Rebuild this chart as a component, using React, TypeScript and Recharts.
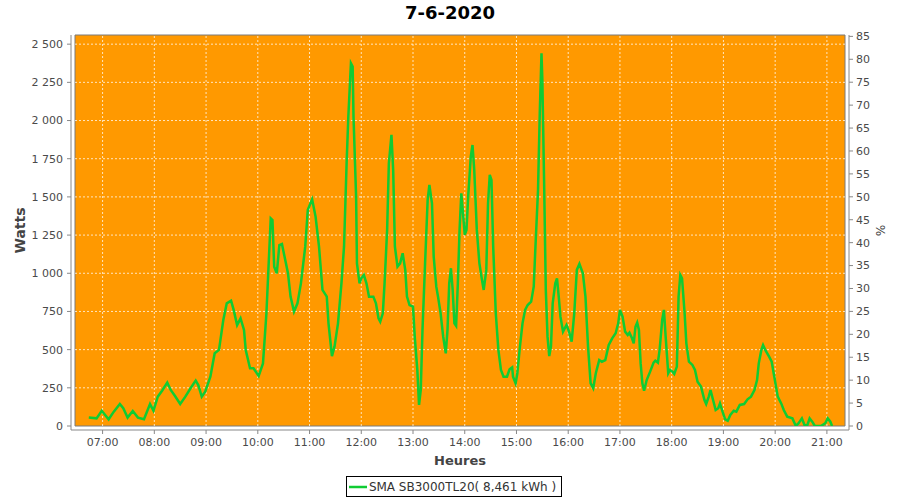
import React from 'react';
import { LineChart, Line, XAxis, YAxis, ReferenceArea, ReferenceLine, Legend } from 'recharts';

const title = '7-6-2020';
const seriesName = 'SMA SB3000TL20( 8,461 kWh )';
const xLabel = 'Heures';
const yLeftLabel = 'Watts';
const yRightLabel = '%';

const times = [
  '06:44', '06:53', '06:59', '07:07', '07:13', '07:20', '07:24', '07:29', '07:35', '07:41',
  '07:48', '07:55', '07:59', '08:04', '08:09', '08:15', '08:19', '08:24', '08:30', '08:36',
  '08:42', '08:48', '08:51', '08:55', '08:59', '09:05', '09:10', '09:15', '09:20', '09:24',
  '09:29', '09:32', '09:36', '09:40', '09:44', '09:46', '09:51', '09:55', '10:01', '10:06',
  '10:10', '10:15', '10:17', '10:19', '10:22', '10:25', '10:28', '10:31', '10:35', '10:38',
  '10:42', '10:46', '10:50', '10:55', '10:58', '11:03', '11:07', '11:11', '11:15', '11:20',
  '11:22', '11:26', '11:29', '11:33', '11:37', '11:40', '11:43', '11:45', '11:48', '11:50',
  '11:51', '11:54', '11:55', '11:58', '12:00', '12:03', '12:06', '12:09', '12:14', '12:17',
  '12:20', '12:22', '12:25', '12:27', '12:30', '12:32', '12:35', '12:37', '12:39', '12:42',
  '12:45', '12:48', '12:51', '12:53', '12:56', '13:00', '13:02', '13:05', '13:07', '13:09',
  '13:11', '13:14', '13:17', '13:19', '13:22', '13:24', '13:27', '13:29', '13:32', '13:35',
  '13:38', '13:40', '13:42', '13:44', '13:46', '13:48', '13:50', '13:52', '13:54', '13:56',
  '13:58', '14:00', '14:02', '14:04', '14:07', '14:09', '14:11', '14:14', '14:17', '14:20',
  '14:22', '14:25', '14:27', '14:29', '14:31', '14:33', '14:36', '14:39', '14:42', '14:45',
  '14:49', '14:52', '14:55', '14:56', '14:59', '15:01', '15:04', '15:07', '15:10', '15:13',
  '15:17', '15:20', '15:22', '15:25', '15:27', '15:29', '15:30', '15:32', '15:34', '15:36',
  '15:38', '15:40', '15:42', '15:45', '15:47', '15:49', '15:51', '15:54', '15:58', '16:01',
  '16:04', '16:07', '16:10', '16:13', '16:17', '16:20', '16:23', '16:26', '16:29', '16:32',
  '16:36', '16:39', '16:43', '16:47', '16:51', '16:55', '16:58', '17:00', '17:03', '17:06',
  '17:09', '17:11', '17:14', '17:16', '17:18', '17:20', '17:22', '17:24', '17:26', '17:28',
  '17:31', '17:35', '17:39', '17:41', '17:44', '17:46', '17:49', '17:51', '17:53', '17:56',
  '17:58', '18:01', '18:03', '18:06', '18:08', '18:10', '18:12', '18:15', '18:17', '18:20',
  '18:24', '18:27', '18:30', '18:34', '18:38', '18:40', '18:43', '18:45', '18:48', '18:51',
  '18:54', '18:56', '18:59', '19:02', '19:05', '19:08', '19:12', '19:15', '19:19', '19:24',
  '19:28', '19:32', '19:36', '19:39', '19:41', '19:44', '19:46', '19:49', '19:53', '19:56',
  '19:59', '20:03', '20:07', '20:10', '20:14', '20:20', '20:24', '20:27', '20:31', '20:34',
  '20:37', '20:40', '20:43', '20:46', '20:53', '20:58', '21:01', '21:04', '21:06',
];

const watts = [
  55, 50, 100, 44, 94, 144, 116, 55, 98, 55,
  44, 144, 100, 192, 231, 284, 236, 196, 144, 192,
  247, 297, 268, 192, 225, 323, 476, 498, 694, 803,
  821, 760, 661, 705, 629, 498, 378, 378, 327, 410,
  738, 1360, 1349, 1043, 1000, 1185, 1192, 1109, 1000, 847,
  749, 803, 934, 1174, 1415, 1484, 1371, 1174, 891, 847,
  672, 458, 520, 672, 934, 1174, 1720, 2026, 2375, 2353,
  2026, 1502, 1065, 934, 967, 989, 934, 847, 847, 803,
  705, 683, 738, 934, 1284, 1720, 1906, 1677, 1174, 1043,
  1065, 1131, 1022, 847, 792, 782, 585, 367, 138, 236,
  629, 1065, 1480, 1578, 1458, 1109, 912, 847, 738, 585,
  476, 629, 934, 1033, 891, 672, 655, 934, 1284, 1524,
  1393, 1251, 1284, 1502, 1764, 1840, 1677, 1284, 1065, 956,
  891, 1022, 1458, 1644, 1611, 1174, 738, 498, 367, 323,
  323, 371, 384, 323, 279, 345, 520, 672, 760, 792,
  814, 912, 1174, 1546, 2048, 2441, 2266, 1611, 891, 585,
  458, 520, 803, 934, 967, 847, 716, 618, 661, 618,
  552, 738, 1022, 1061, 1000, 847, 520, 279, 247, 345,
  432, 421, 432, 530, 574, 607, 672, 760, 716, 618,
  596, 611, 574, 541, 650, 677, 629, 410, 279, 231,
  301, 356, 415, 428, 415, 498, 694, 760, 585, 345,
  367, 356, 341, 389, 847, 989, 967, 738, 541, 421,
  400, 367, 290, 258, 170, 144, 192, 236, 170, 105,
  116, 148, 94, 44, 35, 72, 100, 94, 138, 144,
  175, 192, 236, 301, 410, 498, 530, 493, 454, 421,
  323, 192, 148, 105, 61, 50, 0, 17, 50, 7,
  0, 50, 28, 0, 0, 17, 50, 28, 0,
];

const hourTicks = [
  '07:00', '08:00', '09:00', '10:00', '11:00', '12:00', '13:00', '14:00',
  '15:00', '16:00', '17:00', '18:00', '19:00', '20:00', '21:00',
];
const xRange = ['06:28', '21:21'];
const wattTicks = [0, 250, 500, 750, 1000, 1250, 1500, 1750, 2000, 2250, 2500];
const wattMax = 2560;
const pctTicks = [0, 5, 10, 15, 20, 25, 30, 35, 40, 45, 50, 55, 60, 65, 70, 75, 80, 85];
const pctMax = 85.3;

const toMin = (s: string) => {
  const [h, m] = s.split(':').map(Number);
  return h * 60 + m;
};
const pad2 = (n: number) => String(n).padStart(2, '0');
const fmtTime = (v: number) => `${pad2(Math.floor(v / 60))}:${pad2(Math.round(v % 60))}`;
const fmtW = (v: number) =>
  v >= 1000 ? `${Math.floor(v / 1000)} ${String(v % 1000).padStart(3, '0')}` : String(v);

const data = times.map((t, i) => ({ t: toMin(t), w: watts[i] }));
const xTicks = hourTicks.map(toMin);
const xMin = toMin(xRange[0]);
const xMax = toMin(xRange[1]);

const FONT = 'DejaVu Sans, Verdana, sans-serif';
const TICK_FILL = '#4a4a4a';
const AXIS_STROKE = '#888888';
const PLOT_BG = '#FF9900';
const LINE_COLOR = '#10CC33';
const GRID = '#FFFFFF';

const LeftLabel = (props: any) => {
  const vb = props.viewBox || { x: 0, y: 0, width: 0, height: 0 };
  const cx = 20;
  const cy = vb.y + (vb.height - 4) / 2;
  return (
    <text
      x={cx}
      y={cy}
      transform={`rotate(-90 ${cx} ${cy})`}
      textAnchor="middle"
      dominantBaseline="central"
      fontFamily={FONT}
      fontSize={14}
      fontWeight="bold"
      fill="#444"
    >
      {yLeftLabel}
    </text>
  );
};

const RightLabel = (props: any) => {
  const vb = props.viewBox || { x: 0, y: 0, width: 0, height: 0 };
  const cx = vb.x + 31;
  const cy = vb.y + (vb.height - 4) / 2;
  return (
    <text
      x={cx}
      y={cy}
      transform={`rotate(90 ${cx} ${cy})`}
      textAnchor="middle"
      dominantBaseline="central"
      fontFamily={FONT}
      fontSize={12}
      fill="#444"
    >
      {yRightLabel}
    </text>
  );
};

const BottomLabel = (props: any) => {
  const vb = props.viewBox || { x: 0, y: 0, width: 0, height: 0 };
  const cx = vb.x + vb.width / 2;
  return (
    <text
      x={cx}
      y={vb.y + 35}
      textAnchor="middle"
      fontFamily={FONT}
      fontSize={13}
      fontWeight="bold"
      fill="#444"
    >
      {xLabel}
    </text>
  );
};

const LegendBox = () => (
  <div style={{ display: 'flex', justifyContent: 'center', paddingLeft: 8, marginTop: 6 }}>
    <div
      style={{
        border: '1px solid #000',
        display: 'flex',
        alignItems: 'center',
        height: 19,
        padding: '0 5px 0 2px',
        fontFamily: FONT,
        fontSize: 12,
        color: '#333',
        background: '#fff',
      }}
    >
      <svg width={18} height={6} style={{ marginRight: 2 }}>
        <line x1={0} y1={3} x2={18} y2={3} stroke={LINE_COLOR} strokeWidth={2.5} />
      </svg>
      <span style={{ whiteSpace: 'nowrap' }}>{seriesName}</span>
    </div>
  </div>
);

export default function App() {
  const tickStyle = { fill: TICK_FILL, fontSize: 11, fontFamily: FONT };
  return (
    <div
      style={{
        position: 'absolute',
        left: 0,
        top: 0,
        width: 900,
        height: 500,
        background: '#fff',
        fontFamily: FONT,
      }}
    >
      <div
        style={{
          position: 'absolute',
          left: 0,
          top: 1,
          width: 900,
          textAlign: 'center',
          fontFamily: FONT,
          fontWeight: 'bold',
          fontSize: 18,
          lineHeight: '24px',
          color: '#000',
        }}
      >
        {title}
      </div>
      <div style={{ position: 'absolute', left: 0, top: 0 }}>
        <LineChart width={900} height={500} data={data} margin={{ top: 35, right: 0, bottom: 0, left: 0 }}>
          <XAxis
            dataKey="t"
            type="number"
            domain={[xMin, xMax]}
            allowDataOverflow
            ticks={xTicks}
            interval={0}
            tickFormatter={fmtTime}
            height={40}
            padding={{ left: 4, right: 4 }}
            stroke={AXIS_STROKE}
            tick={tickStyle}
            tickSize={4}
            tickMargin={4}
            label={<BottomLabel />}
          />
          <YAxis
            yAxisId="w"
            orientation="left"
            width={71}
            type="number"
            domain={[0, wattMax]}
            allowDataOverflow
            ticks={wattTicks}
            interval={0}
            tickFormatter={fmtW}
            padding={{ top: 0, bottom: 4 }}
            stroke={AXIS_STROKE}
            tick={tickStyle}
            tickSize={4}
            tickMargin={4}
            label={<LeftLabel />}
          />
          <YAxis
            yAxisId="p"
            orientation="right"
            width={51}
            type="number"
            domain={[0, pctMax]}
            allowDataOverflow
            ticks={pctTicks}
            interval={0}
            padding={{ top: 0, bottom: 4 }}
            stroke={AXIS_STROKE}
            tick={tickStyle}
            tickSize={4}
            tickMargin={3}
            label={<RightLabel />}
          />
          <ReferenceArea
            yAxisId="w"
            x1={xMin}
            x2={xMax}
            y1={0}
            y2={wattMax}
            fill={PLOT_BG}
            fillOpacity={1}
            stroke="#7a7a7a"
            strokeWidth={1}
          />
          {wattTicks
            .filter((v) => v > 0)
            .map((v) => (
              <ReferenceLine
                key={`h${v}`}
                yAxisId="w"
                segment={[
                  { x: xMin, y: v },
                  { x: xMax, y: v },
                ]}
                stroke={GRID}
                strokeOpacity={0.75}
                strokeDasharray="2 2"
                strokeWidth={1}
              />
            ))}
          {xTicks.map((v) => (
            <ReferenceLine
              key={`v${v}`}
              yAxisId="w"
              segment={[
                { x: v, y: 0 },
                { x: v, y: wattMax },
              ]}
              stroke={GRID}
              strokeOpacity={0.75}
              strokeDasharray="2 2"
              strokeWidth={1}
            />
          ))}
          <Legend verticalAlign="bottom" height={30} content={<LegendBox />} />
          <Line
            yAxisId="w"
            type="linear"
            dataKey="w"
            name={seriesName}
            stroke={LINE_COLOR}
            strokeWidth={2.5}
            dot={false}
            activeDot={false}
            isAnimationActive={false}
          />
        </LineChart>
      </div>
    </div>
  );
}
